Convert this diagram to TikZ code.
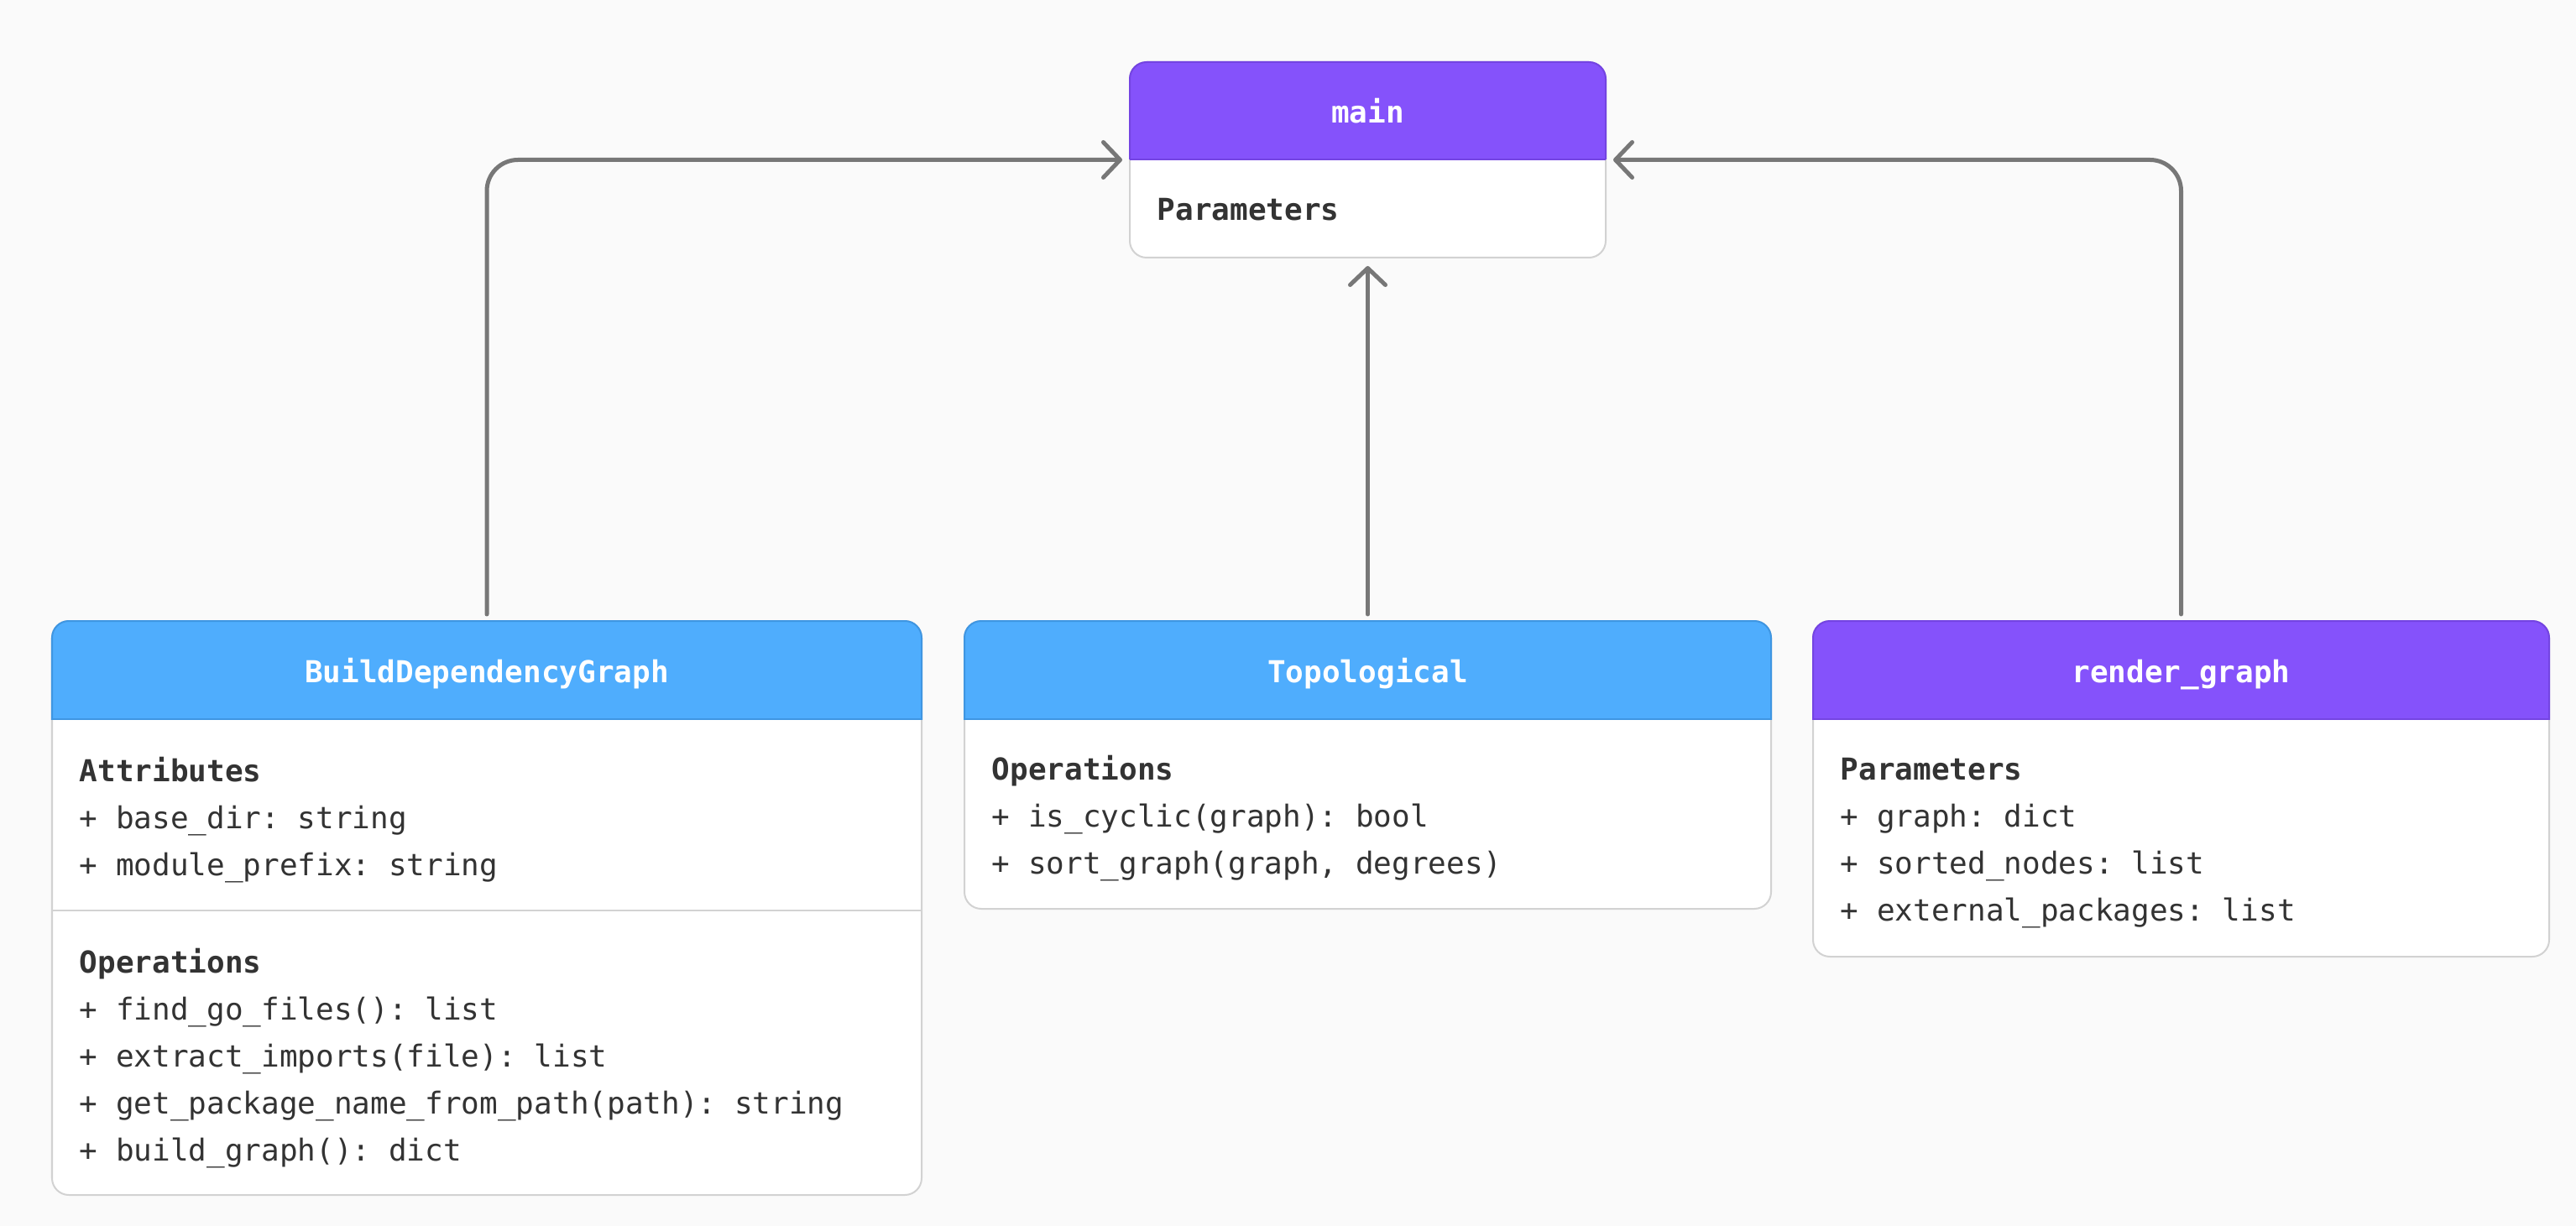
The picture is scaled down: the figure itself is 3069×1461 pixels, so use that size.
\documentclass[tikz,border=0pt]{standalone}
\usepackage{fontspec}
\setmonofont{DejaVu Sans Mono}
\usetikzlibrary{arrows.meta,fit}
\definecolor{bg}{HTML}{FAFAFA}
\definecolor{boxline}{HTML}{D2D2D2}
\definecolor{txt}{HTML}{333333}
\definecolor{conncol}{HTML}{777777}
\definecolor{hpurple}{HTML}{8552FB}
\definecolor{hpurpledark}{HTML}{7444E2}
\definecolor{hblue}{HTML}{4FADFD}
\definecolor{hbluedark}{HTML}{3F96E2}
\tikzset{
  umlbody/.style={draw=boxline, line width=0.02cm, fill=white, rounded corners=0.2cm, inner sep=0pt, outer sep=0pt},
  conn/.style={draw=conncol, line width=0.05cm, rounded corners=0.37cm, line cap=round,
    -{Straight Barb[length=0.2cm,width=0.42cm,round]}},
  ttl/.style={font=\ttfamily\bfseries\fontsize{10.24pt}{12pt}\selectfont, text=white, anchor=base, inner sep=0pt},
  sect/.style={font=\ttfamily\bfseries\fontsize{10.24pt}{12pt}\selectfont, text=txt, anchor=base west, inner sep=0pt},
  item/.style={font=\ttfamily\fontsize{10.24pt}{12pt}\selectfont, text=txt, anchor=base west, inner sep=0pt},
}
% #1 name, #2 left, #3 top, #4 right, #5 bottom, #6 header bottom, #7 colour
\newcommand\umlbox[7]{%
  \node[umlbody, fit={(#2,#3) (#4,#5)}] (#1) {};
  \begin{scope}
    \clip[rounded corners=0.2cm] (#2,#3) rectangle (#4,#5);
    \fill[#7] (#2,#3) rectangle (#4,#6);
  \end{scope}
  \begin{scope}
    \clip (#2-10,#3-10) rectangle (#4+10,#6);
    \draw[#7dark, line width=0.02cm, rounded corners=0.2cm] (#2,#3) rectangle (#4,#5);
  \end{scope}
  \draw[#7dark, line width=0.02cm] (#2,#6) -- (#4,#6);
}
\begin{document}
\begin{tikzpicture}[x=0.01cm,y=-0.01cm]
\useasboundingbox[fill=bg] (0,0) rectangle (3069,1461);

% main
\umlbox{main}{1346}{74}{1913}{307}{190}{hpurple}
\node[ttl] (main-t) at (1629.5,147) {main};
\node[sect] (main-p) at (1378,263) {Parameters};

% BuildDependencyGraph
\umlbox{bdg}{62}{740}{1098}{1424}{857}{hblue}
\draw[boxline, line width=0.02cm] (62,1085) -- (1098,1085);
\node[ttl] (bdg-t) at (580,813) {BuildDependencyGraph};
\node[sect] (bdg-s1) at (94,931) {Attributes};
\node[item] (bdg-a1) at (94,987) {+ base\_dir: string};
\node[item] (bdg-a2) at (94,1043) {+ module\_prefix: string};
\node[sect] (bdg-s2) at (94,1159) {Operations};
\node[item] (bdg-o1) at (94,1215) {+ find\_go\_files(): list};
\node[item] (bdg-o2) at (94,1271) {+ extract\_imports(file): list};
\node[item] (bdg-o3) at (94,1327) {+ get\_package\_name\_from\_path(path): string};
\node[item] (bdg-o4) at (94,1383) {+ build\_graph(): dict};

% Topological
\umlbox{topo}{1149}{740}{2110}{1083}{857}{hblue}
\node[ttl] (topo-t) at (1629.5,813) {Topological};
\node[sect] (topo-s1) at (1181,929) {Operations};
\node[item] (topo-o1) at (1181,985) {+ is\_cyclic(graph): bool};
\node[item] (topo-o2) at (1181,1041) {+ sort\_graph(graph, degrees)};

% render_graph
\umlbox{render}{2160}{740}{3037}{1140}{857}{hpurple}
\node[ttl] (render-t) at (2598.5,813) {render\_graph};
\node[sect] (render-s1) at (2192,929) {Parameters};
\node[item] (render-p1) at (2192,985) {+ graph: dict};
\node[item] (render-p2) at (2192,1041) {+ sorted\_nodes: list};
\node[item] (render-p3) at (2192,1097) {+ external\_packages: list};

% connectors
\draw[conn, shorten <=0.08cm, shorten >=0.09cm] (bdg.north) |- (main.west);
\draw[conn, shorten <=0.08cm, shorten >=0.1cm] (topo.north) -- (main.south);
\draw[conn, shorten <=0.08cm, shorten >=0.09cm] (render.north) |- (main.east);
\end{tikzpicture}
\end{document}
